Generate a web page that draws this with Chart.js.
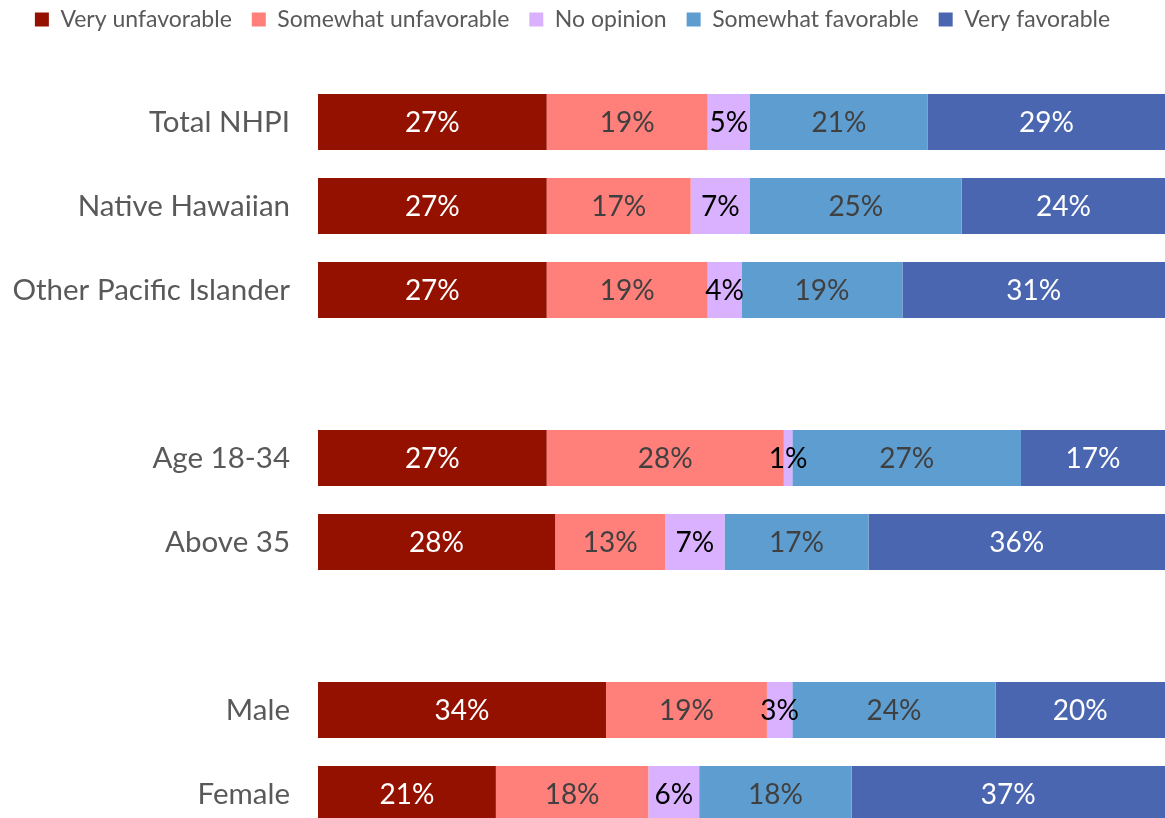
<!DOCTYPE html>
<html>
<head>
<meta charset="utf-8">
<title>NHPI favorability</title>
<script src="https://cdn.jsdelivr.net/npm/chart.js@4"></script>
<style>
    html, body { margin: 0; padding: 0; background: #fff; overflow: hidden; }
    canvas { display: block; }
</style>
</head>
<body>
<canvas id="chart" width="1165" height="836"></canvas>
<script>
// 数据：空字符串是分组之间的空行
const categories = ['Total NHPI', 'Native Hawaiian', 'Other Pacific Islander', '',
    'Age 18-34', 'Above 35', '', 'Male', 'Female'];
const veryUnfavorable     = [27, 27, 27, null, 27, 28, null, 34, 21];
const somewhatUnfavorable = [19, 17, 19, null, 28, 13, null, 19, 18];
const noOpinion           = [5, 7, 4, null, 1, 7, null, 3, 6];
const somewhatFavorable   = [21, 25, 19, null, 27, 17, null, 24, 18];
const veryFavorable       = [29, 24, 31, null, 17, 36, null, 20, 37];

const FONT = 'Lato';

// 图例高度固定，让绘图区从 y=80 开始
const legendHeight = {
    id: 'legendHeight',
    beforeInit(chart) {
        const fit = chart.legend.fit;
        chart.legend.fit = function() {
            fit.bind(chart.legend)();
            this.height = 92;
        };
    }
};

// 每段中间画百分比
const barLabels = {
    id: 'barLabels',
    afterDatasetsDraw(chart) {
        const ctx = chart.ctx;
        const area = chart.chartArea;
        ctx.save();
        ctx.font = '28px ' + FONT;
        ctx.textAlign = 'center';
        ctx.textBaseline = 'middle';
        chart.data.datasets.forEach((ds, i) => {
            const meta = chart.getDatasetMeta(i);
            meta.data.forEach((bar, j) => {
                const v = ds.data[j];
                if (v === null || v === undefined) return;
                const left = Math.max(Math.min(bar.x, bar.base), area.left);
                const right = Math.min(Math.max(bar.x, bar.base), area.right);
                ctx.fillStyle = ds.labelColor;
                ctx.fillText(v + '%', (left + right) / 2, bar.y + 1);
            });
        });
        ctx.restore();
    }
};

const makeSet = (label, data, color, labelColor) => ({
    label: label,
    data: data,
    backgroundColor: color,
    borderWidth: 0,
    labelColor: labelColor,
    barPercentage: 1,
    categoryPercentage: 0.667
});

new Chart(document.getElementById('chart'), {
    type: 'bar',
    data: {
        labels: categories,
        datasets: [
            makeSet('Very unfavorable', veryUnfavorable, '#941100', '#ffffff'),
            makeSet('Somewhat unfavorable', somewhatUnfavorable, '#ff7f7a', '#404040'),
            makeSet('No opinion', noOpinion, '#d9b1ff', '#000000'),
            makeSet('Somewhat favorable', somewhatFavorable, '#5e9dd0', '#404040'),
            makeSet('Very favorable', veryFavorable, '#4a66b0', '#ffffff')
        ]
    },
    options: {
        indexAxis: 'y',
        responsive: false,
        animation: false,
        layout: { padding: { top: -12, left: -20, right: 0, bottom: 0 } },
        scales: {
            x: {
                stacked: true,
                min: 0,
                max: 100,
                display: false
            },
            y: {
                stacked: true,
                border: { display: false },
                grid: { display: false, drawTicks: false },
                ticks: {
                    padding: 28,
                    color: '#595959',
                    font: { family: FONT, size: 29.5 }
                },
                afterFit(scale) {
                    scale.width = 338;
                    // 不要给首尾标签留上下空白
                    scale.paddingTop = 0;
                    scale.paddingBottom = 0;
                }
            }
        },
        plugins: {
            legend: {
                position: 'top',
                labels: {
                    boxWidth: 14,
                    boxHeight: 14,
                    padding: 20,
                    color: '#595959',
                    font: { family: FONT, size: 23, lineHeight: 1 }
                }
            },
            tooltip: { enabled: false }
        }
    },
    plugins: [legendHeight, barLabels]
});
</script>
</body>
</html>
